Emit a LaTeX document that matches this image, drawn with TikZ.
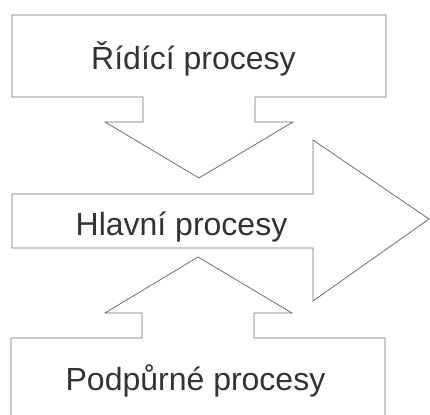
\documentclass[tikz,border=0pt]{standalone}
\usepackage{fontspec}
\newfontfamily\procfont{Liberation Sans}
\usetikzlibrary{positioning}
\definecolor{linegray}{HTML}{6E6E6E}
\definecolor{textgray}{HTML}{333333}

\begin{document}
\begin{tikzpicture}[x=1pt,y=-1pt,
    block/.style={draw=linegray,line width=0.8pt,line join=miter},
    proc/.style={font=\procfont\fontsize{32}{38}\selectfont,text=textgray,anchor=base,inner sep=0pt}]
    \useasboundingbox (0,0) rectangle (430,414);
    % ridici procesy (box with arrow down)
    \draw[block] (12,15) -- (386,15) -- (386,97) -- (255,97) -- (255,122) -- (293,122)
        -- (199,178) -- (105,122) -- (143,122) -- (143,97) -- (12,97) -- cycle;
    % hlavni procesy (arrow right)
    \draw[block] (12,194) -- (313,194) -- (313,140) -- (429,219) -- (313,301)
        -- (313,248) -- (12,248) -- cycle;
    % podpurne procesy (box with arrow up, cut off at the bottom)
    \draw[block] (11,416) -- (11,338) -- (142,338) -- (142,313) -- (105,313) -- (198,257)
        -- (292,313) -- (254,313) -- (254,338) -- (385,338) -- (385,416);
    \node[proc] (ridici) at (193.5,70) {Řídící procesy};
    \node[proc] (hlavni) at (181.5,235) {Hlavní procesy};
    \node[proc] (podpurne) at (195.5,390) {Podpůrné procesy};
\end{tikzpicture}
\end{document}
